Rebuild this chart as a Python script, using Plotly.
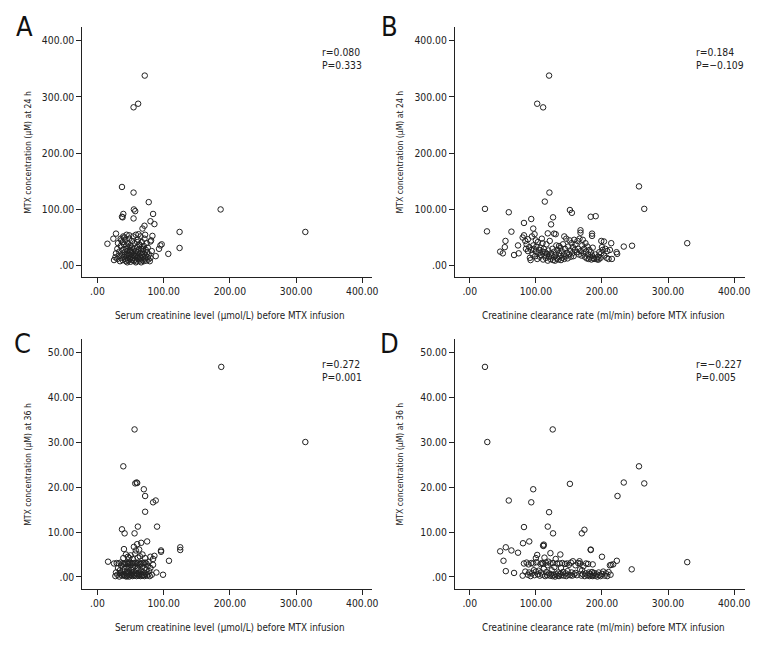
import plotly.graph_objects as go

# ---------------- data ----------------
# Panel A: serum creatinine (umol/L) vs MTX at 24 h (uM)
a_x = [71.4, 61.4, 54.5, 37, 54.5, 77.4, 186, 314, 124, 124, 107, 88, 55, 57, 37, 39, 38, 54.5, 84, 86, 80, 71, 68,
       83, 80, 81, 93, 95, 97, 15, 28, 24,
       25, 27, 28, 30, 30, 31, 32, 33, 34, 35, 35, 36, 37, 38, 38, 39, 40, 40, 41, 42, 42, 43, 43, 44, 44, 45, 45,
       46, 46, 47, 47, 48, 48, 49, 49, 50, 50, 51, 51, 52, 52, 53, 53, 54, 54, 55, 55, 56, 56, 57, 57, 58, 58, 59,
       59, 60, 60, 61, 61, 62, 62, 63, 63, 64, 64, 65, 65, 66, 66, 67, 67, 68, 68, 69, 70, 70, 71, 71, 72, 73, 73,
       74, 74, 75, 76, 76, 77, 78, 79, 80, 82, 72, 62, 48, 40, 35, 58, 45, 66, 52, 44, 38, 60, 69, 56, 50, 42, 64]
a_y = [338, 288, 281.6, 140, 130, 113, 100, 60, 60, 31.5, 21, 17, 100, 97, 87, 92, 86, 84, 92, 74, 79, 71, 66,
       53, 43, 45, 30, 36, 38, 39, 57, 48,
       10, 15, 22, 12, 30, 40, 18, 25, 8, 35, 14, 45, 20, 28, 10, 52, 16, 38, 24, 12, 46, 30, 8, 19, 55, 26, 14,
       40, 10, 33, 21, 17, 48, 12, 28, 7, 36, 22, 15, 44, 10, 27, 18, 52, 13, 30, 9, 22, 40, 16, 11, 26, 55, 19,
       8, 33, 14, 24, 46, 11, 18, 29, 38, 15, 9, 22, 52, 13, 30, 19, 42, 10, 25, 16, 35, 8, 21, 48, 13, 28, 18,
       40, 9, 24, 15, 32, 11, 20, 8, 14, 26, 55, 56, 54, 50, 48, 6, 6, 6, 32, 36, 42, 42, 30, 18, 25, 20, 36]

# Panel B: creatinine clearance (ml/min) vs MTX at 24 h (uM)
b_x = [120, 102, 111, 256, 120.5, 113.5, 23, 264, 59, 151.5, 154.5, 183, 190.5, 126, 93, 82, 123, 26, 63, 96,
       329, 245.5, 233, 167.5, 167.5, 185, 185, 118, 127.5, 130, 46, 50, 54, 53, 67, 74, 73, 199, 203, 214, 207,
       212, 222, 223, 199, 193, 215,
       80, 82, 84, 85, 86, 88, 90, 91, 92, 93, 94, 95, 96, 97, 98, 99, 100, 101, 102, 103, 104, 105, 106, 107, 108,
       109, 110, 111, 112, 113, 114, 115, 116, 117, 118, 119, 120, 121, 122, 123, 124, 125, 126, 127, 128, 129,
       130, 131, 132, 133, 134, 135, 136, 137, 138, 139, 140, 141, 142, 143, 144, 145, 146, 147, 148, 149, 150,
       151, 152, 153, 154, 155, 156, 157, 158, 159, 160, 162, 163, 164, 165, 166, 168, 169, 170, 171, 172, 173,
       174, 175, 176, 177, 178, 179, 180, 181, 182, 183, 184, 185, 186, 187, 188, 190, 192, 194, 195, 196, 198,
       200, 201, 203, 205, 208, 210, 143, 135, 110, 100, 88]
b_y = [338, 288, 281.5, 141, 130, 114, 101, 101, 95, 99, 94, 87, 88, 86, 83, 76, 73.5, 61, 60.5, 66,
       40, 35.5, 34, 63, 58.6, 57, 53, 57.5, 57, 56, 25, 22, 44, 33, 19, 22, 36, 44, 43, 40, 14,
       28, 24, 21, 22, 11, 12,
       50, 54, 44, 30, 38, 26, 33, 14, 10, 28, 52, 20, 36, 30, 56, 17, 25, 34, 12, 42, 22, 28, 16, 32, 19,
       48, 25, 11, 30, 18, 24, 14, 38, 21, 9, 27, 16, 44, 12, 22, 18, 30, 10, 15, 25, 9,
       19, 36, 13, 28, 11, 22, 17, 32, 10, 26, 14, 38, 20, 12, 30, 17, 48, 23, 13, 34, 20,
       45, 27, 16, 40, 22, 33, 17, 46, 28, 38, 24, 44, 30, 20, 48, 26, 18, 36, 46, 22, 30,
       16, 40, 25, 13, 34, 20, 12, 28, 15, 24, 11, 18, 32, 14, 12, 20, 13, 16, 11, 24, 14,
       33, 28, 18, 30, 26, 12, 52, 35, 40, 45, 47]

# Panel C: serum creatinine (umol/L) vs MTX at 36 h (uM)
c_x = [187, 314, 56, 39, 57, 59, 60, 70, 72, 84, 88, 72, 61, 90, 37, 41, 56, 75, 66, 60, 55, 40, 125, 125, 96, 96,
       108, 16, 99, 89, 84, 86, 80, 84,
       25, 27, 28, 29, 30, 31, 32, 33, 34, 35, 35, 36, 37, 38, 38, 39, 40, 40, 41, 42, 42, 43, 43, 44, 44, 45, 45,
       46, 46, 47, 47, 48, 48, 49, 49, 50, 50, 51, 51, 52, 52, 53, 53, 54, 54, 55, 55, 56, 56, 57, 57, 58, 58, 59,
       59, 60, 60, 61, 61, 62, 62, 63, 63, 64, 64, 65, 65, 66, 66, 67, 67, 68, 68, 69, 70, 70, 71, 71, 72, 72, 73,
       74, 74, 75, 76, 77, 77, 78, 79, 80, 82, 34, 46, 53, 58, 63, 48, 44, 69, 39]
c_y = [46.7, 30, 32.8, 24.6, 20.8, 21, 20.9, 19.5, 18, 16.6, 17, 14.5, 11.2, 11.2, 10.6, 9.7, 9.7, 7.9, 7.6, 7.3,
       6.7, 6.2, 6.6, 6.0, 5.6, 5.9, 3.6, 3.4, 0.5, 1.0, 4.0, 4.7, 4.5, 2.7,
       3.0, 0.2, 1.0, 3.1, 0.5, 2.0, 3.0, 0.1, 1.5, 3.2, 0.6, 2.5, 0.3, 3.0, 1.2, 4.2, 0.4, 2.9, 1.8, 0.2, 3.1,
       5.0, 0.8, 2.2, 3.0, 0.3, 1.4, 4.5, 0.6, 3.0, 2.0, 0.1, 1.0, 3.2, 0.5, 4.8, 2.6, 0.3, 1.6, 3.0, 0.7, 4.0,
       0.2, 2.1, 3.1, 0.5, 1.2, 3.0, 0.3, 5.2, 2.4, 0.8, 3.1, 0.2, 1.7, 3.0, 0.6, 4.3, 2.0, 0.3, 3.2, 1.0, 0.5,
       2.9, 4.6, 0.2, 1.5, 3.0, 0.7, 2.3, 0.3, 3.1, 5.0, 1.1, 0.4, 3.0, 2.0, 0.2, 4.2, 3.2, 0.8, 1.6, 3.0, 0.3,
       2.5, 0.6, 3.3, 1.3, 0.2, 2.0, 0.5, 0.9, 2.9, 1.0, 5.9, 6.1, 4.2, 0.1, 0.4, 0.6]

# Panel D: creatinine clearance (ml/min) vs MTX at 36 h (uM)
d_x = [23, 26.5, 125.5, 256, 233, 264, 151.5, 96, 223.5, 59, 93, 120, 118, 82, 126, 169.5, 173.5, 90, 80.5, 111,
       112, 111.5, 183, 183, 54.5, 46, 63, 73, 51, 54.5, 67, 329, 245, 222.5, 200, 212, 214, 217, 179, 167, 167,
       166, 137, 122, 100, 102,
       80, 82, 84, 86, 88, 89, 90, 92, 93, 94, 96, 97, 98, 100, 101, 103, 104, 106, 107, 108, 109, 110, 111, 112,
       113, 114, 115, 116, 117, 118, 119, 120, 121, 122, 123, 124, 125, 126, 127, 128, 129, 130, 131, 132, 133,
       134, 135, 136, 137, 138, 139, 140, 141, 142, 144, 145, 146, 147, 148, 149, 150, 152, 153, 154, 155, 156,
       158, 160, 162, 164, 169, 170, 171, 172, 174, 175, 176, 178, 180, 181, 182, 184, 185, 186, 187, 188, 190,
       192, 193, 195, 196, 198, 200, 202, 204, 206, 208, 210, 213, 186, 160]
d_y = [46.7, 30, 32.8, 24.6, 21, 20.8, 20.7, 19.5, 18, 17, 16.6, 14.4, 11.2, 11.1, 9.7, 9.7, 10.5, 7.9, 7.5, 7.0,
       7.2, 6.9, 6.1, 6.0, 6.6, 5.7, 5.9, 5.4, 3.6, 1.3, 0.9, 3.3, 1.7, 3.6, 4.5, 2.6, 2.7, 2.8, 2.9, 3.0, 1.7,
       3.5, 5.0, 5.3, 4.2, 4.9,
       0.3, 3.0, 1.2, 3.2, 0.5, 2.8, 1.0, 0.2, 3.1, 0.8, 3.0, 1.5, 0.4, 1.2, 3.3, 0.6, 1.4, 0.3, 2.9, 1.0, 3.1,
       0.5, 3.0, 1.8, 4.3, 0.2, 3.2, 1.1, 0.4, 2.6, 3.4, 0.8, 0.3, 3.0, 0.6, 1.5, 0.2, 3.1, 0.5, 2.2, 0.1, 4.0,
       0.6, 3.0, 0.3, 1.0, 0.2, 3.0, 0.7, 2.0, 0.4, 3.1, 1.1, 0.3, 2.9, 0.8, 0.2, 3.0, 1.3, 0.5, 2.7, 0.4, 3.2,
       1.0, 0.3, 3.5, 0.6, 2.6, 0.4, 3.1, 0.3, 1.5, 0.6, 2.4, 0.2, 0.8, 3.0, 0.4, 1.0, 0.2, 0.7, 0.3, 1.1, 0.2,
       0.5, 0.9, 0.3, 0.6, 0.1, 1.0, 0.4, 0.2, 0.7, 1.2, 0.3, 0.8, 0.2, 1.1, 0.5, 2.8, 0.9]

x_ticks = [0, 100, 200, 300, 400]
x_tick_text = [".00", "100.00", "200.00", "300.00", "400.00"]
y24_ticks = [0, 100, 200, 300, 400]
y24_tick_text = [".00", "100.00", "200.00", "300.00", "400.00"]
y36_ticks = [0, 10, 20, 30, 40, 50]
y36_tick_text = [".00", "10.00", "20.00", "30.00", "40.00", "50.00"]

panel_letters = ["A", "B", "C", "D"]
x_titles = ["Serum creatinine level (μmol/L) before MTX infusion",
            "Creatinine clearance rate (ml/min) before MTX infusion",
            "Serum creatinine level (μmol/L) before MTX infusion",
            "Creatinine clearance rate (ml/min) before MTX infusion"]
y_titles = ["MTX concentration (μM) at 24 h", "MTX concentration (μM) at 24 h",
            "MTX concentration (μM) at 36 h", "MTX concentration (μM) at 36 h"]
r_text = ["r=0.080", "r=0.184", "r=0.272", "r=−0.227"]
p_text = ["P=0.333", "P=−0.109", "P=0.001", "P=0.005"]

# ---------------- layout geometry (window pixels) ----------------
# the page body has an 8px margin, so the figure starts at (8, 8)
OFF = 8
W, H = 780 - OFF, 660 - OFF
FONT = "Liberation Sans Narrow, Arial Narrow, DejaVu Sans Condensed, sans-serif"
boxes = [(83, 375, 27, 277), (459, 752, 27, 277), (83, 375, 339, 589), (459, 752, 339, 589)]
letter_pos = [(25, 27), (393, 27), (23, 343), (393, 343)]
xranges = [[-22.9, 414.2], [-22.5, 416.8], [-22.9, 414.2], [-22.5, 416.8]]
yranges = [[-20.1, 424.4], [-20.1, 424.4], [-2.67, 52.9], [-2.67, 52.9]]
xs = [a_x, b_x, c_x, d_x]
ys = [a_y, b_y, c_y, d_y]


def px(x):
    return (x - OFF) / W


def py(y):
    return 1 - (y - OFF) / H


fig = go.Figure()
annotations = []
layout = {}
TXT = "#222222"
for i in range(4):
    n = "" if i == 0 else str(i + 1)
    x0, x1, y0, y1 = boxes[i]
    fig.add_trace(go.Scatter(
        x=xs[i], y=ys[i], mode="markers", xaxis="x" + n, yaxis="y" + n,
        marker=dict(symbol="circle-open", size=5.5, color="#222222", line=dict(width=1, color="#222222")),
        showlegend=False, hoverinfo="x+y"))
    is24 = i < 2
    common = dict(showline=True, linecolor="#222", linewidth=1, ticks="outside", ticklen=5, tickcolor="#222",
                  showgrid=False, zeroline=False, tickfont=dict(family=FONT, size=10.3, color=TXT))
    layout["xaxis" + n] = dict(domain=[px(x0), px(x1)], range=xranges[i], anchor="y" + n,
                               tickvals=x_ticks, ticktext=x_tick_text, **common)
    layout["yaxis" + n] = dict(domain=[py(y1), py(y0)], range=yranges[i], anchor="x" + n,
                               tickvals=y24_ticks if is24 else y36_ticks,
                               ticktext=y24_tick_text if is24 else y36_tick_text, **common)
    annotations.append(dict(text=x_titles[i], xref="paper", yref="paper",
                            x=px((x0 + x1) / 2 + 3), y=py(y1 + 38),
                            showarrow=False, xanchor="center", yanchor="middle",
                            font=dict(family=FONT, size=9.8, color=TXT)))
    annotations.append(dict(text=y_titles[i], xref="paper", yref="paper",
                            x=px(x0 - 55), y=py((y0 + y1) / 2), textangle=-90,
                            showarrow=False, xanchor="center", yanchor="middle",
                            font=dict(family=FONT, size=8.6, color=TXT)))
    lx, ly = letter_pos[i]
    annotations.append(dict(text=panel_letters[i], xref="paper", yref="paper",
                            x=px(lx), y=py(ly),
                            showarrow=False, xanchor="center", yanchor="middle",
                            font=dict(family=FONT, size=27, color="#111")))
    annotations.append(dict(text=r_text[i], xref="paper", yref="paper",
                            x=px(x1 - 52), y=py(y0 + 25),
                            showarrow=False, xanchor="left", yanchor="middle",
                            font=dict(family=FONT, size=10.3, color=TXT)))
    annotations.append(dict(text=p_text[i], xref="paper", yref="paper",
                            x=px(x1 - 52), y=py(y0 + 38),
                            showarrow=False, xanchor="left", yanchor="middle",
                            font=dict(family=FONT, size=10.3, color=TXT)))

fig.update_layout(width=W, height=H, margin=dict(l=0, r=0, t=0, b=0),
                  paper_bgcolor="white", plot_bgcolor="white",
                  annotations=annotations, **layout)
fig.write_html("out.html")
